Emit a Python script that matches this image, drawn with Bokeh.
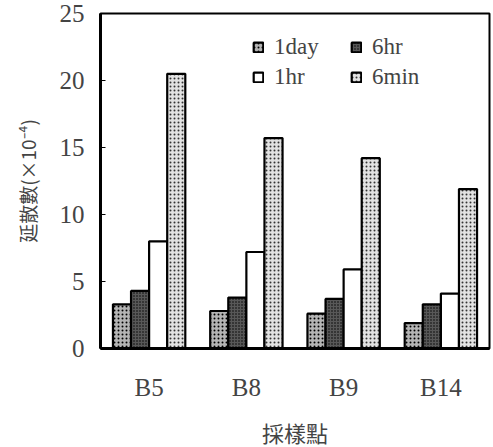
from bokeh.plotting import figure
from bokeh.models import ColumnDataSource, FactorRange, Range1d, FixedTicker, Legend, LegendItem
from bokeh.transform import dodge
from bokeh.embed import file_html
from bokeh.resources import INLINE

sites = ["B5", "B8", "B9", "B14"]
series = ["1day", "6hr", "1hr", "6min"]
v_1day = [3.3, 2.8, 2.6, 1.9]
v_6hr = [4.3, 3.8, 3.7, 3.3]
v_1hr = [8.0, 7.2, 5.9, 4.1]
v_6min = [20.5, 15.7, 14.2, 11.9]
y_ticks = [0, 5, 10, 15, 20, 25]

src = ColumnDataSource(data={"site": sites, "1day": v_1day, "6hr": v_6hr, "1hr": v_1hr, "6min": v_6min})

p = figure(frame_width=389, frame_height=335, x_range=FactorRange(*sites, range_padding=0),
           y_range=Range1d(0, 25), output_backend="svg", toolbar_location=None,
           min_border_left=100, min_border_right=2, min_border_top=13, min_border_bottom=10)

styles = {
    "1day": dict(fill_color="#b4b4b4", hatch_pattern="dot", hatch_color="black", hatch_scale=4, hatch_weight=1.4),
    "6hr": dict(fill_color="#585858", hatch_pattern="dot", hatch_color="black", hatch_scale=3, hatch_weight=1.5),
    "1hr": dict(fill_color="white"),
    "6min": dict(fill_color="#e2e2e2", hatch_pattern="dot", hatch_color="#333333", hatch_scale=4, hatch_weight=1),
}

w = 0.186
items = []
for i, s in enumerate(series):
    off = (i - 1.5) * w
    r = p.vbar(x=dodge("site", off, range=p.x_range), top=s, width=w, source=src,
               line_color="black", line_width=2.2, **styles[s])
    items.append(LegendItem(label=s, renderers=[r]))

legend = Legend(items=items, orientation="horizontal", ncols=2, location=(152, 258),
                glyph_width=12, glyph_height=12, label_standoff=10, spacing=4,
                label_width=72, padding=0, margin=0, border_line_alpha=0, background_fill_alpha=0,
                label_text_font="Liberation Serif", label_text_font_size="23px",
                label_height=26)
p.add_layout(legend, "center")

p.xgrid.visible = False
p.ygrid.visible = False
p.outline_line_color = "black"
p.outline_line_width = 2

p.yaxis.ticker = FixedTicker(ticks=y_ticks)
p.yaxis.major_tick_in = 5
p.yaxis.major_tick_out = 0
p.yaxis.minor_tick_line_color = None
p.yaxis.axis_line_width = 3
p.yaxis.major_label_text_font = "Liberation Serif"
p.yaxis.major_label_text_font_size = "25px"
p.yaxis.major_label_standoff = 16
p.yaxis.axis_label = "延散數(×10⁻⁴)"
p.yaxis.axis_label_text_font = "Noto Sans CJK TC"
p.yaxis.axis_label_text_font_size = "19px"
p.yaxis.axis_label_text_font_style = "normal"
p.yaxis.axis_label_standoff = 16

p.xaxis.axis_line_width = 3
p.xaxis.major_tick_line_color = None
p.xaxis.major_label_text_font = "Liberation Serif"
p.xaxis.major_label_text_font_size = "25px"
p.xaxis.major_label_standoff = 19
p.xaxis.axis_label = "採樣點"
p.xaxis.axis_label_text_font = "Noto Sans CJK TC"
p.xaxis.axis_label_text_font_size = "22px"
p.xaxis.axis_label_text_font_style = "normal"
p.xaxis.axis_label_standoff = 12

open("out.html", "w").write(file_html(p, INLINE))
